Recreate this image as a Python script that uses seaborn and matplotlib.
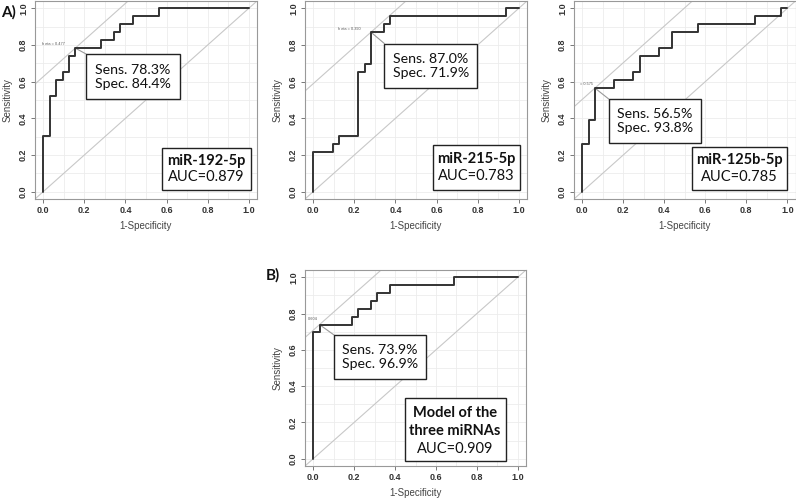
import numpy as np
import pandas as pd
import matplotlib
matplotlib.use("Agg")
import matplotlib.pyplot as plt
from matplotlib.patches import Rectangle
import seaborn as sns

# ---------------- data ----------------
fpr_192 = [0, 0, 0.031, 0.063, 0.094, 0.125, 0.156, 0.281, 0.344, 0.375, 0.438, 0.563, 1.0]
tpr_192 = [0, 0.304, 0.522, 0.609, 0.652, 0.739, 0.783, 0.826, 0.870, 0.913, 0.957, 1.0, 1.0]

fpr_215 = [0, 0, 0.094, 0.125, 0.219, 0.250, 0.281, 0.344, 0.375, 0.938, 1.0]
tpr_215 = [0, 0.217, 0.261, 0.304, 0.652, 0.696, 0.870, 0.913, 0.957, 1.0, 1.0]

fpr_125 = [0, 0, 0.031, 0.063, 0.156, 0.250, 0.281, 0.375, 0.438, 0.563, 0.844, 0.969, 1.0]
tpr_125 = [0, 0.261, 0.391, 0.565, 0.609, 0.652, 0.739, 0.783, 0.870, 0.913, 0.957, 1.0, 1.0]

fpr_mod = [0, 0, 0.031, 0.188, 0.219, 0.281, 0.313, 0.375, 0.688, 1.0]
tpr_mod = [0, 0.696, 0.739, 0.783, 0.826, 0.870, 0.913, 0.957, 1.0, 1.0]

names = ["miR-192-5p", "miR-215-5p", "miR-125b-5p", "Model of the\nthree miRNAs"]
aucs = [0.879, 0.783, 0.785, 0.909]
sens_vals = [0.783, 0.870, 0.565, 0.739]
spec_vals = [0.844, 0.719, 0.938, 0.969]
thr_labels = ["h eta = 0.477", "h eta = 0.390", "= 0.575", "0.604"]
tick_vals = [0.0, 0.2, 0.4, 0.6, 0.8, 1.0]

# ---------------- style ----------------
sns.set_style("white")
plt.rcParams["font.family"] = ["Liberation Sans", "DejaVu Sans"]
BOXFONT = ["Lato", "DejaVu Sans"]
BOXSIZE = 10.2

W, H = 796, 499
fig = plt.figure(figsize=(W / 100, H / 100), dpi=100)


def px_axes(left, top, right, bottom):
    return fig.add_axes([left / W, 1 - bottom / H, (right - left) / W, (bottom - top) / H])


def draw_panel(ax, fpr, tpr, i, sens_box, auc_box, thr_off):
    lim = (-0.04, 1.04)
    ax.set_xlim(lim)
    ax.set_ylim(lim)
    # grid
    for g in np.arange(0, 1.01, 0.1):
        ax.axvline(g, color="#ececec", lw=0.6, zorder=0)
        ax.axhline(g, color="#ececec", lw=0.6, zorder=0)
    # diagonal and tangent line
    sens, spec = sens_vals[i], spec_vals[i]
    fp = 1 - spec
    ax.axline((0, 0), slope=1, color="#c8c8c8", lw=0.8, zorder=1)
    ax.axline((0, sens - fp), slope=1, color="#c8c8c8", lw=0.8, zorder=1)
    df = pd.DataFrame({"fpr": fpr, "tpr": tpr})
    sns.lineplot(data=df, x="fpr", y="tpr", sort=False, estimator=None,
                 drawstyle="steps-post", color="#333333", lw=1.4, ax=ax, zorder=3)
    # threshold annotation
    ax.text(fp + thr_off[0], sens + thr_off[1], thr_labels[i], fontsize=2.8,
            color="#555555", ha="right", va="bottom", zorder=4)
    # connector
    sx0, sy0, sx1, sy1 = sens_box
    ax.plot([fp, sx0], [sens, sy1], color="#999999", lw=0.8, zorder=2)
    # sens/spec box
    ax.add_patch(Rectangle((sx0, sy0), sx1 - sx0, sy1 - sy0, facecolor="white",
                           edgecolor="#222222", lw=1.0, zorder=5))
    ax.text((sx0 + sx1) / 2, (sy0 + sy1) / 2,
            f"Sens. {sens * 100:.1f}%\nSpec. {spec * 100:.1f}%",
            ha="center", va="center", multialignment="left", fontsize=BOXSIZE,
            family=BOXFONT, linespacing=1.2, color="#111111", zorder=6)
    # AUC box
    ax0, ay0, ax1, ay1 = auc_box
    ax.add_patch(Rectangle((ax0, ay0), ax1 - ax0, ay1 - ay0, facecolor="white",
                           edgecolor="#222222", lw=1.0, zorder=5, clip_on=False))
    cx = (ax0 + ax1) / 2
    nlines = names[i].count("\n") + 1
    h = ay1 - ay0
    if nlines == 1:
        ax.text(cx, ay0 + h * 0.68, names[i], ha="center", va="center",
                fontsize=BOXSIZE + 0.3, fontweight="bold", family=BOXFONT, color="#111111", zorder=6)
        ax.text(cx, ay0 + h * 0.30, f"AUC={aucs[i]:.3f}", ha="center", va="center",
                fontsize=BOXSIZE + 0.3, family=BOXFONT, color="#111111", zorder=6)
    else:
        ax.text(cx, ay0 + h * 0.62, names[i], ha="center", va="center",
                fontsize=BOXSIZE + 0.3, fontweight="bold", family=BOXFONT, linespacing=1.3,
                color="#111111", zorder=6)
        ax.text(cx, ay0 + h * 0.19, f"AUC={aucs[i]:.3f}", ha="center", va="center",
                fontsize=BOXSIZE + 0.3, family=BOXFONT, color="#111111", zorder=6)
    # axes styling
    ax.set_xticks(tick_vals)
    ax.set_yticks(tick_vals)
    ax.set_xticklabels([f"{t:.1f}" for t in tick_vals], fontsize=6.5, fontweight="bold",
                       color="#333333")
    ax.set_yticklabels([f"{t:.1f}" for t in tick_vals], fontsize=6.5, fontweight="bold",
                       color="#333333", rotation=90, va="center")
    ax.tick_params(axis="both", length=3, width=0.7, color="#777777", pad=2, direction="out")
    ax.tick_params(axis="x", bottom=True)
    ax.tick_params(axis="y", left=True)
    ax.set_xlabel("1-Specificity", fontsize=7, color="#444444", labelpad=4)
    ax.set_ylabel("Sensitivity", fontsize=7, color="#444444", labelpad=5)
    for sp in ax.spines.values():
        sp.set_color("#999999")
        sp.set_linewidth(0.8)
        sp.set_visible(True)


ax1 = px_axes(35, 1, 257, 199)
ax2 = px_axes(305, 1, 527, 199)
ax3 = px_axes(574, 1, 795.5, 199)
ax4 = px_axes(305, 270, 526, 466)

draw_panel(ax1, fpr_192, tpr_192, 0, (0.21, 0.505, 0.665, 0.75), (0.58, 0.01, 1.01, 0.24), (-0.05, 0.01))
draw_panel(ax2, fpr_215, tpr_215, 1, (0.346, 0.567, 0.797, 0.808), (0.581, 0.011, 1.008, 0.255), (-0.05, 0.005))
draw_panel(ax3, fpr_125, tpr_125, 2, (0.131, 0.265, 0.581, 0.504), (0.535, 0.011, 1.0, 0.246), (-0.01, 0.01))
draw_panel(ax4, fpr_mod, tpr_mod, 3, (0.103, 0.438, 0.553, 0.681), (0.447, -0.01, 0.94, 0.333), (-0.01, 0.02))

fig.text(1 / W, 1 - 12 / H, "A)", fontsize=11, fontweight="bold", family=BOXFONT,
         ha="left", va="center", color="#111111")
fig.text(266 / W, 1 - 275 / H, "B)", fontsize=11, fontweight="bold", family=BOXFONT,
         ha="left", va="center", color="#111111")

fig.savefig("out.png", dpi=100)
